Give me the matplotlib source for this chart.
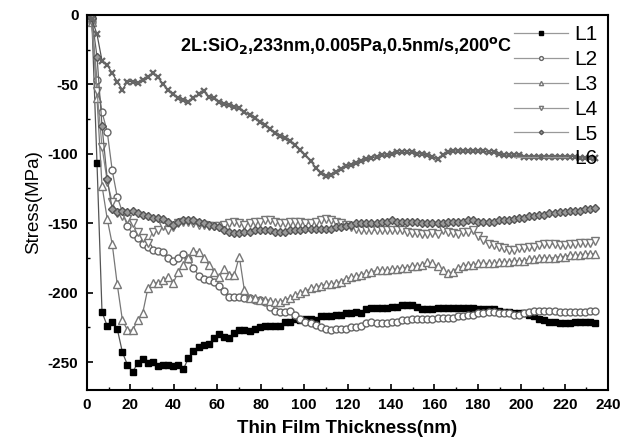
import matplotlib
matplotlib.use("Agg")
import matplotlib.pyplot as plt
from matplotlib.ticker import MultipleLocator

plt.rcParams['font.family'] = ['Liberation Sans', 'DejaVu Sans']
plt.rcParams['axes.unicode_minus'] = False

thickness = [0, 2.3, 4.7, 7.0, 9.4, 11.7, 14.0, 16.4, 18.7, 21.1, 23.4, 25.7, 28.1, 30.4, 32.8, 35.1,
             37.4, 39.8, 42.1, 44.5, 46.8, 49.1, 51.5, 53.8, 56.2, 58.5, 60.8, 63.2, 65.5, 67.9, 70.2,
             72.5, 74.9, 77.2, 79.6, 81.9, 84.2, 86.6, 88.9, 91.3, 93.6, 95.9, 98.3, 100.6, 103.0, 105.3,
             107.6, 110.0, 112.3, 114.7, 117.0, 119.3, 121.7, 124.0, 126.4, 128.7, 131.0, 133.4, 135.7,
             138.1, 140.4, 142.7, 145.1, 147.4, 149.8, 152.1, 154.4, 156.8, 159.1, 161.5, 163.8, 166.1,
             168.5, 170.8, 173.2, 175.5, 177.8, 180.2, 182.5, 184.9, 187.2, 189.5, 191.9, 194.2, 196.6,
             198.9, 201.2, 203.6, 205.9, 208.3, 210.6, 212.9, 215.3, 217.6, 220.0, 222.3, 224.6, 227.0,
             229.3, 231.7, 234.0]

L1 = [0, -2, -107, -214, -224, -221, -226, -243, -252, -257, -251, -248, -251, -250, -253, -252,
      -252, -253, -252, -255, -247, -242, -239, -238, -237, -233, -230, -232, -233, -229, -227,
      -227, -228, -226, -225, -224, -224, -224, -224, -221, -221, -219, -220, -219, -219, -220,
      -217, -217, -217, -216, -216, -215, -215, -214, -215, -212, -211, -211, -211, -211, -210,
      -210, -209, -209, -209, -210, -212, -212, -212, -211, -211, -211, -211, -211, -211, -211,
      -211, -212, -212, -212, -212, -213, -214, -214, -215, -215, -215, -216, -217, -219, -220,
      -221, -221, -222, -222, -222, -221, -221, -221, -221, -222, -222]

L2 = [0, -5, -47, -70, -84, -112, -131, -142, -152, -158, -161, -165, -167, -169, -170, -171,
      -175, -177, -175, -172, -176, -182, -188, -190, -191, -192, -195, -199, -203, -203, -203,
      -204, -204, -205, -205, -207, -210, -213, -214, -214, -213, -216, -219, -221, -222, -223,
      -225, -226, -227, -226, -226, -226, -225, -225, -224, -222, -221, -222, -222, -222, -221,
      -221, -220, -220, -219, -219, -219, -219, -219, -218, -218, -218, -218, -217, -217, -216,
      -216, -215, -215, -214, -214, -215, -215, -215, -216, -216, -215, -214, -213, -213, -213,
      -213, -213, -214, -214, -214, -214, -214, -214, -213, -213]

L3 = [0, -5, -60, -123, -147, -165, -194, -220, -227, -227, -220, -215, -197, -193, -193, -191,
      -189, -193, -185, -180, -175, -170, -171, -175, -180, -185, -189, -183, -187, -187, -174,
      -198, -204, -204, -205, -205, -206, -207, -207, -205, -204, -202, -200, -199, -197, -196,
      -195, -194, -194, -193, -192, -190, -189, -188, -187, -186, -185, -184, -184, -184, -183,
      -183, -182, -182, -181, -181, -180, -178, -179, -181, -184, -186, -185, -182, -181, -180,
      -180, -179, -179, -179, -179, -178, -178, -178, -177, -177, -177, -176, -176, -175, -175,
      -175, -175, -174, -174, -173, -173, -173, -172, -172, -172]

L4 = [0, -5, -55, -95, -120, -135, -143, -145, -147, -150, -156, -161, -164, -156, -155, -152,
      -155, -153, -150, -149, -149, -150, -151, -151, -152, -152, -152, -151, -150, -149, -150,
      -151, -150, -149, -149, -148, -148, -149, -150, -150, -149, -149, -149, -150, -150, -149,
      -148, -147, -148, -149, -150, -151, -153, -154, -155, -155, -155, -155, -155, -155, -155,
      -155, -155, -156, -157, -157, -158, -158, -157, -158, -155, -156, -157, -158, -156, -156,
      -155, -159, -162, -165, -166, -167, -168, -169, -169, -168, -168, -167, -167, -166, -165,
      -165, -165, -166, -166, -165, -165, -164, -164, -164, -163]

L5 = [0, -2, -30, -80, -118, -140, -142, -141, -142, -141, -143, -144, -145, -146, -146, -147,
      -149, -151, -149, -148, -148, -148, -149, -150, -151, -152, -153, -155, -156, -157, -157,
      -156, -156, -155, -155, -155, -155, -156, -156, -156, -155, -155, -155, -154, -154, -154,
      -154, -154, -154, -153, -153, -152, -151, -150, -150, -150, -150, -150, -149, -149, -148,
      -149, -149, -149, -149, -149, -150, -150, -150, -150, -150, -149, -149, -149, -149, -148,
      -148, -149, -149, -149, -149, -148, -148, -148, -147, -146, -146, -145, -145, -144, -144,
      -143, -143, -142, -142, -141, -141, -141, -140, -140, -139]

L6 = [0, -3, -14, -33, -36, -42, -48, -54, -48, -48, -49, -47, -45, -42, -45, -50,
      -54, -57, -60, -61, -63, -60, -57, -55, -59, -60, -63, -64, -65, -66, -67,
      -70, -72, -74, -77, -79, -82, -85, -87, -89, -91, -94, -97, -101, -105, -110,
      -114, -116, -115, -113, -111, -109, -108, -107, -105, -104, -103, -102, -101, -101, -100,
      -99, -99, -99, -99, -100, -100, -101, -102, -104, -101, -99, -98, -98, -98, -98,
      -98, -98, -98, -99, -99, -100, -101, -101, -101, -101, -102, -102, -102, -102, -102,
      -102, -102, -102, -102, -102, -102, -103, -103, -103, -103, -103]

series_names = ["L1", "L2", "L3", "L4", "L5", "L6"]
series_values = [L1, L2, L3, L4, L5, L6]

styles = [
    dict(marker='s', mfc='black', mec='black', ms=4.5, color='#555555'),
    dict(marker='o', mfc='white', mec='#666666', ms=5, color='#777777'),
    dict(marker='^', mfc='white', mec='#777777', ms=5.5, color='#777777'),
    dict(marker='v', mfc='white', mec='#777777', ms=5.5, color='#888888'),
    dict(marker='D', mfc='#999999', mec='#555555', ms=4, color='#666666'),
    dict(marker='x', mfc='#777777', mec='#666666', ms=5, mew=1.6, color='#555555'),
]

fig = plt.figure(figsize=(6.2, 4.38), dpi=100)
ax = fig.add_axes([0.140, 0.110, 0.841, 0.856])

for name, vals, st in zip(series_names, series_values, styles):
    n = min(len(thickness), len(vals))
    ax.plot(thickness[:n], vals[:n], lw=0.9, label=name, **st)

ax.set_xlim(0, 240)
ax.set_ylim(-270, 0)
ax.xaxis.set_major_locator(MultipleLocator(20))
ax.xaxis.set_minor_locator(MultipleLocator(10))
ax.yaxis.set_major_locator(MultipleLocator(50))
ax.yaxis.set_minor_locator(MultipleLocator(25))
ax.tick_params(which='both', direction='in', top=False, right=False)
ax.tick_params(which='major', length=4, width=1.2, labelsize=11, pad=6)
ax.tick_params(which='minor', length=2.5, width=1)
for lbl in ax.get_xticklabels() + ax.get_yticklabels():
    lbl.set_fontweight('bold')
for sp in ax.spines.values():
    sp.set_linewidth(1.5)

ax.set_xlabel("Thin Film Thickness(nm)", fontsize=13.5, fontweight='bold', labelpad=6)
ax.set_ylabel("Stress(MPa)", fontsize=13.5, labelpad=4)

ax.text(0.178, 0.905, r"2L:SiO$_\mathbf{2}$,233nm,0.005Pa,0.5nm/s,200$^\mathbf{o}$C",
        transform=ax.transAxes, fontsize=13, fontweight='bold')

leg = ax.legend(loc='upper right', frameon=False, fontsize=15, markerscale=0.55,
                handlelength=2.6, handletextpad=0.3, labelspacing=0.28,
                borderaxespad=0.1)
for h in leg.get_lines():
    h.set_color('#999999')

fig.savefig("out.png", dpi=100)
